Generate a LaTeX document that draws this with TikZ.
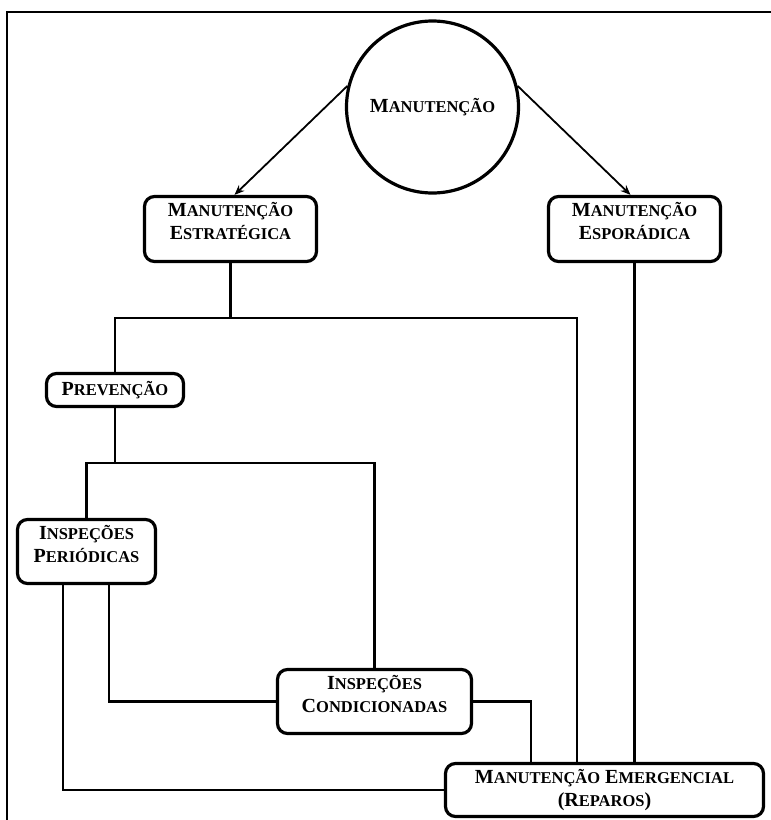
\documentclass[tikz,border=0pt]{standalone}
\usepackage{fontspec}
\setmainfont{Liberation Serif}
\usetikzlibrary{arrows.meta,positioning,calc}
\newcommand{\Sc}[2]{#1{\fontsize{16.5}{23}\selectfont #2}}
\tikzset{
  mbox/.style={draw, rounded corners=10pt, line width=3.2pt, inner xsep=0pt, inner ysep=0pt,
               align=center, anchor=base},
  mcirc/.style={circle, draw, line width=3.2pt, minimum size=172pt, inner sep=0pt},
  ln/.style={line width=2.5pt},
  ar/.style={-{Stealth[length=10pt,width=8pt]}, line width=1.8pt},
}

\begin{document}
\begin{tikzpicture}[x=1pt,y=-1pt,font=\fontsize{20}{23}\selectfont\bfseries]
  \useasboundingbox (0,0) rectangle (771,820);
  \draw[line width=2.5pt] (7,820) -- (7,12) -- (771,12);
  \node[mcirc] (mt) at (432.5,107){\Sc{M}{ANUTENÇÃO}};
  \node[mbox, minimum width=172pt, text height=43pt, text depth=22pt] (estr) at (230.5,239.5)
    {\Sc{M}{ANUTENÇÃO}\\ \Sc{E}{STRATÉGICA}};
  \node[mbox, minimum width=172pt, text height=43pt, text depth=22pt] (espo) at (634.5,239.5)
    {\Sc{M}{ANUTENÇÃO}\\ \Sc{E}{SPORÁDICA}};
  \node[mbox, minimum width=137pt, text height=22pt, text depth=11pt] (prev) at (115,395.5)
    {\Sc{P}{REVENÇÃO}};
  \node[mbox, minimum width=138pt, text height=43pt, text depth=21pt] (peri) at (86.5,562.5)
    {\Sc{I}{NSPEÇÕES}\\ \Sc{P}{ERIÓDICAS}};
  \node[mbox, minimum width=194pt, text height=43pt, text depth=21pt] (cond) at (374.5,712.5)
    {\Sc{I}{NSPEÇÕES}\\ \Sc{C}{ONDICIONADAS}};
  \node[mbox, minimum width=318pt, text height=43pt, text depth=10pt] (emer) at (604.5,806.5)
    {\Sc{M}{ANUTENÇÃO} \Sc{E}{MERGENCIAL}\\ \Sc{(R}{EPAROS})};
  \coordinate (bar1) at (0,318);
  \coordinate (bar2) at (0,463);
  % arrows from the circle
  \draw[ar] (mt.166) -- ([xshift=4pt]estr.north);
  \draw[ar] (mt.14) -- ([xshift=-4pt]espo.north);
  % tree lines
  \draw[ln] (estr.south) -- (estr.south |- bar1);
  \draw[ln] (prev.north) |- ([xshift=-27.5pt]emer.north |- bar1) -- ([xshift=-27.5pt]emer.north);
  \draw[ln] (espo.south) -- (espo.south |- emer.north);
  \draw[ln] (prev.south) -- (prev.south |- bar2);
  \draw[ln] (peri.north) |- (cond.north |- bar2) -- (cond.north);
  \draw[ln] ([xshift=22.5pt]peri.south) |- (cond.west);
  \draw[ln] ([xshift=-23.5pt]peri.south) |- (emer.west);
  \draw[ln] (cond.east) -| ([xshift=-73.5pt]emer.north);
\end{tikzpicture}
\end{document}
